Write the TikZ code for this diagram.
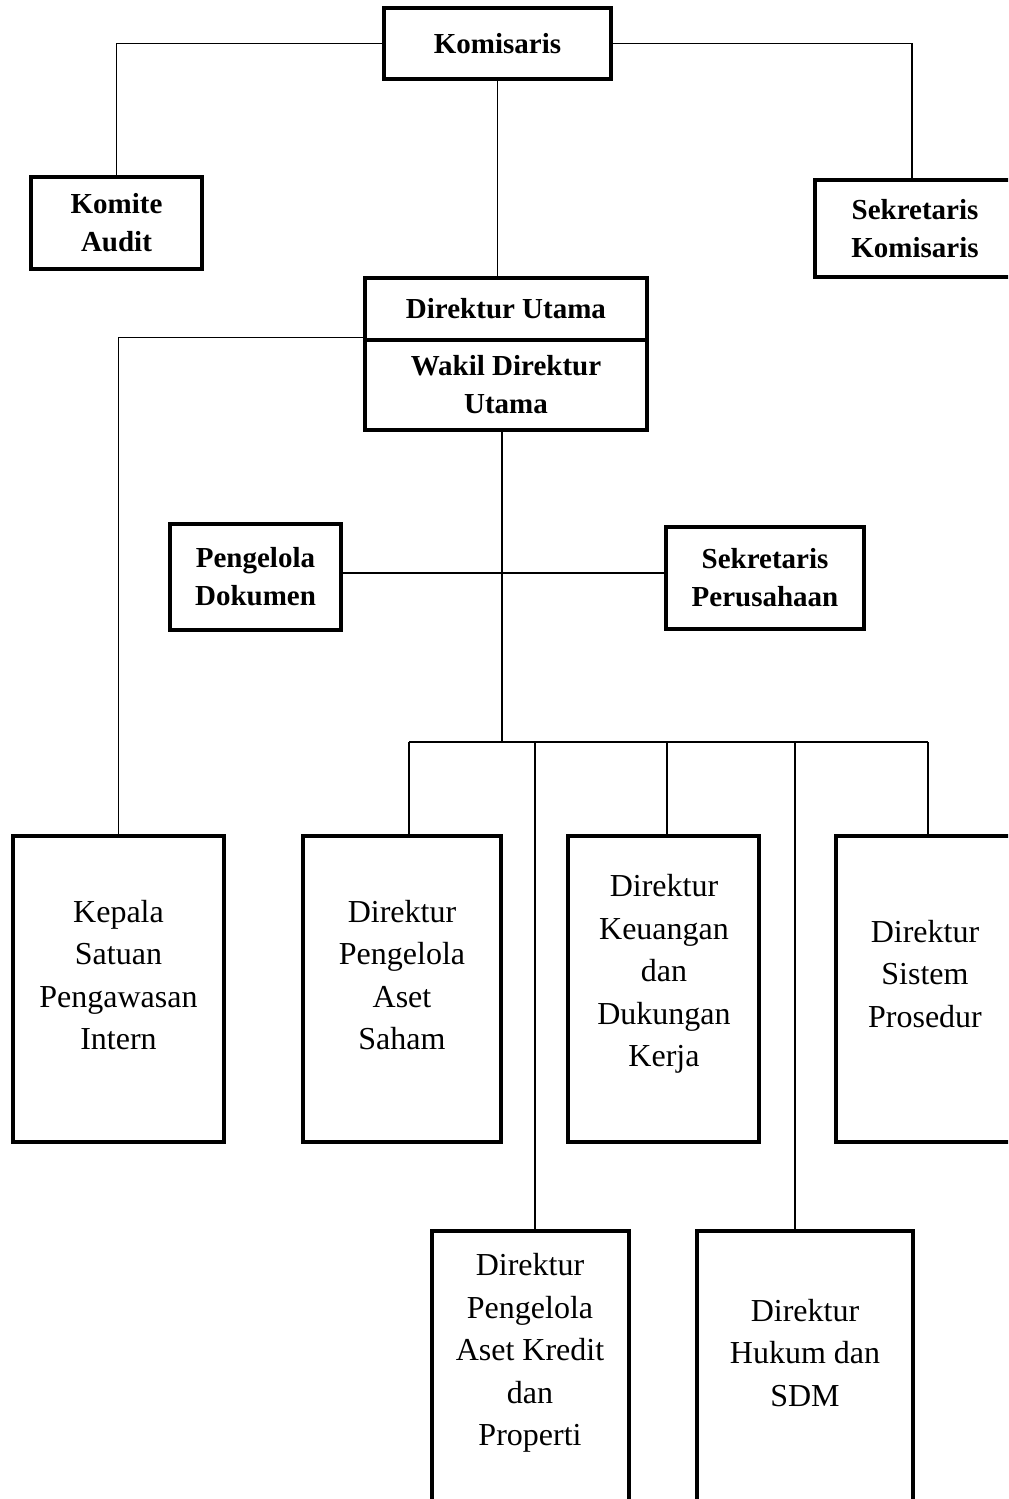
\documentclass[tikz,border=0pt]{standalone}
\usepackage{fontspec}
\setmainfont{Liberation Serif}
\begin{document}
\begin{tikzpicture}[x=0.5pt,y=-0.5pt,
  box/.style={draw=black, line width=2.3pt, fill=white, inner sep=0pt, align=center},
  hbox/.style={box, font=\fontsize{14.5}{19}\selectfont\bfseries},
  tbox/.style={box},
  txt/.style={align=center, inner sep=0pt, font=\fontsize{16}{21.25}\selectfont},
  conn/.style={draw=black, line width=0.75pt}]
\useasboundingbox (0,0) rectangle (1008,1499);
\clip (0,0) rectangle (1008,1499);
% coordinates
\coordinate (bus) at (502,742);
\coordinate (cross) at (502,573);
\coordinate (b1) at (409,742);
\coordinate (b2) at (535,742);
\coordinate (b3) at (667,742);
\coordinate (b4) at (795,742);
\coordinate (b5) at (928,742);
% nodes
\node[hbox, minimum width=113.5pt, minimum height=35.5pt] (kom) at (497.5,43.5) {Komisaris};
\node[hbox, minimum width=85.5pt, minimum height=46pt] (komite) at (116.5,223) {Komite\\Audit};
\node[hbox, minimum width=100pt, minimum height=48.5pt] (sekkom) at (915,228.5) {Sekretaris\\Komisaris};
\node[hbox, minimum width=141pt, minimum height=31pt] (du) at (506,309) {Direktur Utama};
\node[hbox, minimum width=141pt, minimum height=45pt] (wdu) at (506,385) {Wakil Direktur\\Utama};
\node[hbox, minimum width=85.5pt, minimum height=53pt] (pd) at (255.5,577) {Pengelola\\Dokumen};
\node[hbox, minimum width=99pt, minimum height=51pt] (sp) at (765,578) {Sekretaris\\Perusahaan};
\node[tbox, minimum width=105.5pt, minimum height=153pt] (kepala) at (118.5,989) {};
\node[tbox, minimum width=99pt, minimum height=153pt] (asaham) at (402,989) {};
\node[tbox, minimum width=95.5pt, minimum height=153pt] (keu) at (663.5,989) {};
\node[tbox, minimum width=89pt, minimum height=153pt] (sis) at (925,989) {};
\node[tbox, minimum width=98.5pt, minimum height=164.5pt] (akredit) at (530.5,1395.5) {};
\node[tbox, minimum width=108pt, minimum height=164.5pt] (hukum) at (805,1395.5) {};
% texts of tall boxes
\node[txt] (kepalaT) at (118.5,975) {Kepala\\Satuan\\Pengawasan\\Intern};
\node[txt] (asahamT) at (402,975) {Direktur\\Pengelola\\Aset\\Saham};
\node[txt] (keuT) at (664,974) {Direktur\\Keuangan\\dan\\Dukungan\\Kerja};
\node[txt] (sisT) at (925,974) {Direktur\\Sistem\\Prosedur};
\node[txt] (akreditT) at (530,1353) {Direktur\\Pengelola\\Aset Kredit\\dan\\Properti};
\node[txt] (hukumT) at (805,1353) {Direktur\\Hukum dan\\SDM};
% connectors
\draw[conn] (kom.west) -| (komite.north);
\draw[conn] (kom.east) -| ([xshift=-1.5pt]sekkom.north);
\draw[conn] (kom.south) -- (kom.south |- du.north);
\draw[conn] (wdu.north west) -| (kepala.north);
\draw[conn] (wdu.south -| bus) -- (bus);
\draw[conn] (pd.east |- cross) -- (sp.west |- cross);
\draw[conn] (b1) -- (b5);
\draw[conn] (b1) -- (b1 |- asaham.north);
\draw[conn] (b2) -- (b2 |- akredit.north);
\draw[conn] (b3) -- (b3 |- keu.north);
\draw[conn] (b4) -- (b4 |- hukum.north);
\draw[conn] (b5) -- (b5 |- sis.north);
\end{tikzpicture}
\end{document}
